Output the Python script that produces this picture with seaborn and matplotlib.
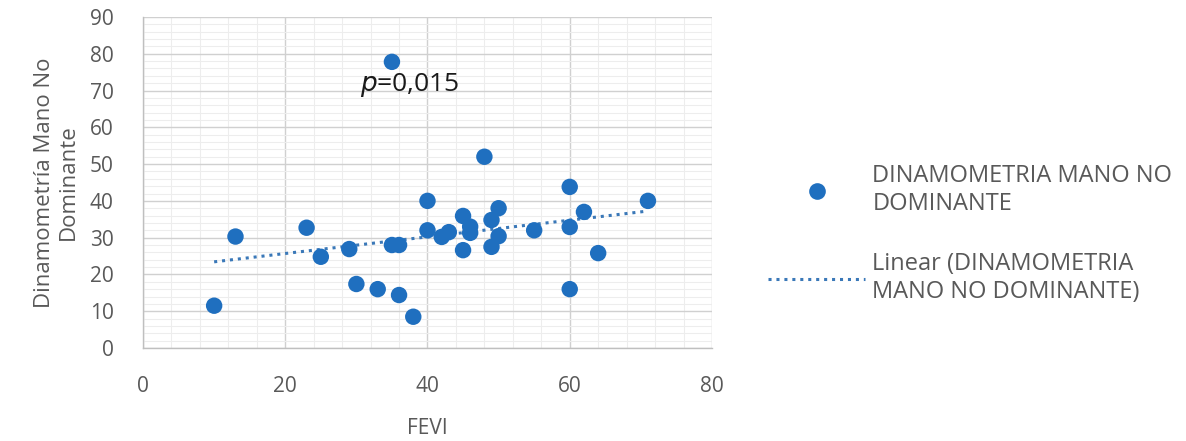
import matplotlib
matplotlib.use("Agg")
import matplotlib.pyplot as plt
import seaborn as sns
import numpy as np
import pandas as pd
from matplotlib.lines import Line2D
from matplotlib.ticker import MultipleLocator

# FEVI vs dinamometria (mano no dominante)
fevi = [10, 13, 23, 25, 29, 30, 33, 35, 35, 36, 36, 38, 40, 40, 42, 43,
        45, 45, 46, 46, 48, 49, 49, 50, 50, 55, 60, 60, 60, 62, 64, 71]
dinamo = [11.5, 30.3, 32.7, 24.8, 26.9, 17.4, 16, 77.8, 28, 28, 14.4, 8.5,
          40, 32, 30.2, 31.5, 35.9, 26.6, 33, 31.3, 52, 34.8, 27.5, 38, 30.4,
          32, 43.8, 32.9, 16, 37, 25.8, 40]

series_label = "DINAMOMETRIA MANO NO\nDOMINANTE"
trend_label = "Linear (DINAMOMETRIA\nMANO NO DOMINANTE)"
xlabel = "FEVI"
ylabel = "Dinamometría Mano No\nDominante"

df = pd.DataFrame({"FEVI": fevi, "Dinamo": dinamo})

sns.set_theme(style="white")
plt.rcParams["font.family"] = ["Open Sans", "DejaVu Sans"]

blue = "#1f6fbf"
trend = "#3a78b8"
txt = "#595959"

fig = plt.figure(figsize=(11.86, 4.41), dpi=100)
ax = fig.add_axes([0.1206, 0.2109, 0.4797, 0.7506])

sns.scatterplot(data=df, x="FEVI", y="Dinamo", ax=ax, s=140, color=blue,
                edgecolor="none", zorder=3)
sns.regplot(data=df, x="FEVI", y="Dinamo", ax=ax, scatter=False, ci=None,
            truncate=True, line_kws={"color": trend, "linestyle": (0, (1, 1.6)),
                                     "linewidth": 2.2, "zorder": 2})

ax.set_xlim(0, 80)
ax.set_ylim(0, 90)
ax.xaxis.set_major_locator(MultipleLocator(20))
ax.yaxis.set_major_locator(MultipleLocator(10))
ax.xaxis.set_minor_locator(MultipleLocator(4))
ax.yaxis.set_minor_locator(MultipleLocator(2))
ax.grid(which="major", color="#d0d0d0", linewidth=1.0)
ax.grid(which="minor", color="#ededed", linewidth=0.8)
ax.set_axisbelow(True)

for side in ["top", "right"]:
    ax.spines[side].set_visible(False)
for side in ["left", "bottom"]:
    ax.spines[side].set_color("#bfbfbf")
    ax.spines[side].set_linewidth(1.0)

ax.tick_params(which="major", direction="out", length=7, width=1,
               color="#bfbfbf", labelsize=15, labelcolor=txt)
ax.tick_params(axis="x", pad=13)
ax.tick_params(axis="y", pad=14)
ax.tick_params(which="minor", length=0)

ax.set_xlabel(xlabel, fontsize=15, color=txt, labelpad=15)
ax.set_ylabel(ylabel, fontsize=16, color=txt, labelpad=8)

ax.text(30.5, 71.5, r"$p$=0,015", fontsize=19, color="#1a1a1a",
        ha="left", va="center")

handles = [
    Line2D([], [], marker="o", linestyle="none", markersize=12,
           markerfacecolor=blue, markeredgecolor="none"),
    Line2D([], [], color=trend, linestyle=(0, (1, 1.6)), linewidth=2.2),
]
leg = fig.legend(handles, [series_label, trend_label], loc="upper left",
                 bbox_to_anchor=(0.630, 0.676), frameon=False, fontsize=17,
                 handlelength=4.1, handletextpad=0.3, labelspacing=1.55,
                 labelcolor=txt)

fig.savefig("out.png", dpi=100)
